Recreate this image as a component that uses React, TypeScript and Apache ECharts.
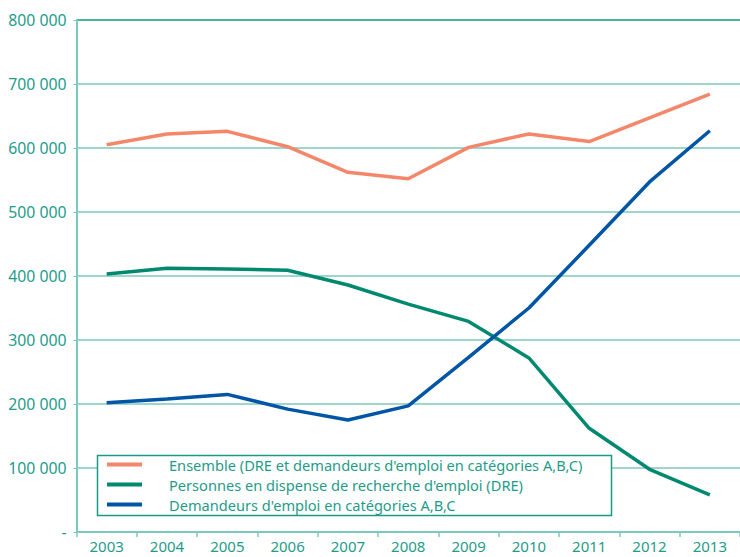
import React, { useEffect, useRef } from "react";
import * as echarts from "echarts";

const years = ["2003", "2004", "2005", "2006", "2007", "2008", "2009", "2010", "2011", "2012", "2013"];
const ensemble = [605000, 622000, 626000, 602000, 562000, 552000, 601000, 622000, 610000, 647000, 684000];
const dispense = [403000, 412000, 411000, 409000, 386000, 356000, 329000, 272000, 162000, 98000, 58000];
const demandeurs = [202000, 208000, 215000, 192000, 175000, 197000, 273000, 350000, 448000, 547000, 627000];
const seriesNames = [
  "Ensemble (DRE et demandeurs d'emploi en catégories A,B,C)",
  "Personnes en dispense de recherche d'emploi (DRE)",
  "Demandeurs d'emploi en catégories A,B,C",
];
const colors = ["#f4876a", "#00896f", "#0056a4"];

const TEAL_TEXT = "#1f9c89";
const GRID = "#7cc9bd";
const FONT = "'Noto Sans', sans-serif";

export default function App() {
  const ref = useRef<HTMLDivElement>(null);
  useEffect(() => {
    if (!ref.current) return;
    const chart = echarts.init(ref.current, undefined, { renderer: "svg" });
    const fmt = (v: number) => {
      if (v === 0) return "-";
      const s = String(Math.round(v / 1000));
      return s + " 000";
    };
    chart.setOption({
      animation: false,
      grid: { left: 76.5, right: -5, top: 20, bottom: 25, containLabel: false },
      graphic: [
        {
          type: "rect",
          shape: { x: 97.5, y: 455.5, width: 514, height: 60 },
          style: { fill: "#ffffff", stroke: "#199a86", lineWidth: 1.5 },
          z: 10,
        },
      ],
      legend: {
        orient: "vertical",
        left: 107,
        top: 455,
        padding: [2, 0, 0, 0],
        itemWidth: 35,
        itemHeight: 4,
        itemGap: 5,
        icon: "rect",
        z: 20,
        textStyle: {
          color: TEAL_TEXT,
          fontFamily: FONT,
          fontSize: 14.6,
          padding: [0, 0, 0, 22],
        },
        data: seriesNames,
      },
      xAxis: {
        type: "category",
        data: years,
        boundaryGap: true,
        axisLine: { lineStyle: { color: GRID, width: 2 } },
        axisTick: { show: true, length: 5, lineStyle: { color: GRID, width: 1.5 } },
        axisLabel: { color: TEAL_TEXT, fontFamily: FONT, fontSize: 15, lineHeight: 15, margin: 6 },
        splitLine: { show: false },
      },
      yAxis: {
        type: "value",
        min: 0,
        max: 800000,
        interval: 100000,
        axisLine: { show: true, lineStyle: { color: GRID, width: 2 } },
        axisTick: { show: true, length: 3, lineStyle: { color: GRID } },
        axisLabel: {
          color: TEAL_TEXT,
          fontFamily: FONT,
          fontSize: 15.8,
          margin: 10,
          formatter: fmt,
        },
        splitLine: {
          show: true,
          lineStyle: {
            color: [GRID, GRID, GRID, GRID, GRID, GRID, GRID, GRID, "#0f9880"],
            width: 1.5,
          },
        },
      },
      series: [
        { name: seriesNames[0], data: ensemble },
        { name: seriesNames[1], data: dispense },
        { name: seriesNames[2], data: demandeurs },
      ].map((s, i) => ({
        ...s,
        type: "line",
        showSymbol: false,
        symbol: "none",
        color: colors[i],
        lineStyle: { color: colors[i], width: 3.5 },
        z: 3,
      })),
    });
    return () => chart.dispose();
  }, []);
  return <div ref={ref} style={{ width: 740, height: 557, position: "absolute", left: 0, top: 0 }} />;
}
